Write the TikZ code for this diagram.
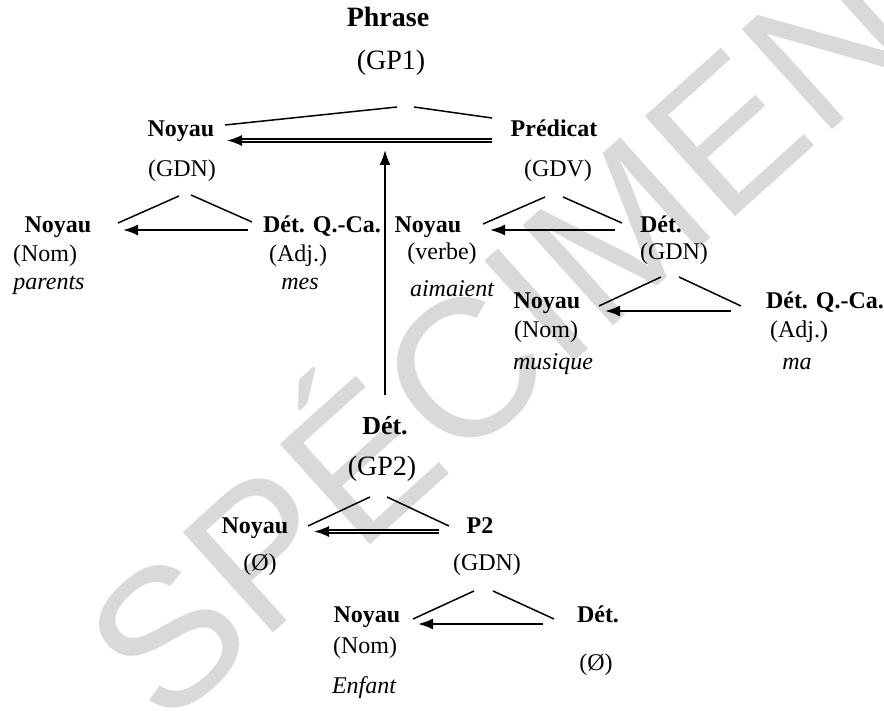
\documentclass[tikz,border=0pt]{standalone}
\usepackage{fontspec}
\setmainfont{Liberation Serif}
\newfontfamily\wmfont{Liberation Sans}
\definecolor{wmgray}{RGB}{217,217,217}
\usetikzlibrary{arrows.meta}

\begin{document}
\begin{tikzpicture}[x=0.5pt, y=-0.5pt,
    every node/.style={inner sep=0pt, anchor=base, font=\fontsize{12}{14}\selectfont},
    head/.style={font=\fontsize{12}{14}\selectfont\bfseries},
    big/.style={font=\fontsize{14}{16}\selectfont},
    word/.style={font=\fontsize{12}{14}\selectfont\itshape},
    branch/.style={line width=0.75pt},
    link/.style={line width=1pt, -{Latex[length=7.5pt,width=5.5pt]}},
    dlink/.style={double, double distance=0.7pt, line width=0.75pt, -{Latex[length=7.5pt,width=5.5pt]}}]
    \useasboundingbox (0,0) rectangle (884,711);
    \begin{scope}
      \clip (0,0) rectangle (884,711);
      \node[rotate=42, text=wmgray, font=\fontsize{98}{98}\selectfont\wmfont] (mark) at (545,388) {SPÉCIMEN};
    \end{scope}

    % phrase 1
    \node[font=\fontsize{14}{16}\selectfont\bfseries] (phrase) at (388,27) {Phrase};
    \node[big] (gpa) at (391,70) {(GP1)};
    \node[head] (noyA) at (181,137) {Noyau};
    \node (gdnA) at (182,177) {(GDN)};
    \node[head] (pred) at (554,137) {Prédicat};
    \node (gdv) at (558,177) {(GDV)};

    \node[head] (noyB) at (58,233) {Noyau};
    \node (nomB) at (45,262) {(Nom)};
    \node[word] (parents) at (49,290) {parents};
    \node[head] (detqA) at (322,233) {Dét. Q.-Ca.};
    \node (adjA) at (298,262) {(Adj.)};
    \node[word] (mes) at (300,290) {mes};

    \node[head] (noyC) at (428,233) {Noyau};
    \node (verbe) at (442,260) {(verbe)};
    \node[word] (aimaient) at (452,297) {aimaient};
    \node[head] (detC) at (661,233) {Dét.};
    \node (gdnC) at (674,260) {(GDN)};

    \node[head] (noyD) at (547,309) {Noyau};
    \node (nomD) at (546,337) {(Nom)};
    \node[word] (musique) at (553,370) {musique};
    \node[head] (detqD) at (825,309) {Dét. Q.-Ca.};
    \node (adjD) at (799,337) {(Adj.)};
    \node[word] (ma) at (797,370) {ma};

    % phrase 2
    \node[font=\fontsize{13}{15}\selectfont\bfseries] (detB) at (385,435) {Dét.};
    \node[big] (gpb) at (382,475) {(GP2)};
    \node[head] (noyE) at (255,533) {Noyau};
    \node (videE) at (260,570) {(Ø)};
    \node[head] (pdeux) at (480,533) {P2};
    \node (gdnE) at (487,570) {(GDN)};
    \node[head] (noyF) at (367,622) {Noyau};
    \node (nomF) at (365,653) {(Nom)};
    \node[word] (enfant) at (364,693) {Enfant};
    \node[head] (detF) at (598,622) {Dét.};
    \node (videF) at (596,670) {(Ø)};

    % branches
    \draw[branch] ([shift={(6,37)}]gpa.base) -- ([shift={(44,-12)}]noyA.base);
    \draw[branch] ([shift={(23,37)}]gpa.base) -- ([shift={(-62,-19)}]pred.base);
    \draw[branch] ([shift={(-3,19)}]gdnA.base) -- ([shift={(60,-10)}]noyB.base);
    \draw[branch] ([shift={(9,18)}]gdnA.base) -- ([shift={(-70,-11)}]detqA.base);
    \draw[branch] ([shift={(-13,20)}]gdv.base) -- ([shift={(55,-9)}]noyC.base);
    \draw[branch] ([shift={(5,20)}]gdv.base) -- ([shift={(-39,-10)}]detC.base);
    \draw[branch] ([shift={(-13,17)}]gdnC.base) -- ([shift={(52,-3)}]noyD.base);
    \draw[branch] ([shift={(5,17)}]gdnC.base) -- ([shift={(-84,-3)}]detqD.base);
    \draw[branch] ([shift={(-12,22)}]gpb.base) -- ([shift={(53,-7)}]noyE.base);
    \draw[branch] ([shift={(5,22)}]gpb.base) -- ([shift={(-31,-7)}]pdeux.base);
    \draw[branch] ([shift={(-13,21)}]gdnE.base) -- ([shift={(46,-3)}]noyF.base);
    \draw[branch] ([shift={(6,21)}]gdnE.base) -- ([shift={(-44,-3)}]detF.base);

    % arrows
    \draw[dlink] ([shift={(-62,3.5)}]pred.base) -- ([shift={(46,3.5)}]noyA.base);
    \draw[link] ([shift={(-74,-3)}]detqA.base) -- ([shift={(65,-3)}]noyB.base);
    \draw[link] ([shift={(-46,-3)}]detC.base) -- ([shift={(62,-3)}]noyC.base);
    \draw[link] ([shift={(-94,2)}]detqD.base) -- ([shift={(58,2)}]noyD.base);
    \draw[dlink] ([shift={(-41,-1.5)}]pdeux.base) -- ([shift={(59,-1.5)}]noyE.base);
    \draw[link] ([shift={(-55,2)}]detF.base) -- ([shift={(51,2)}]noyF.base);
    \path (detB.base |- pred.base) ++(0,13) coordinate (cible);
    \draw[link] ([shift={(0,-40)}]detB.base) -- (cible);
\end{tikzpicture}
\end{document}
